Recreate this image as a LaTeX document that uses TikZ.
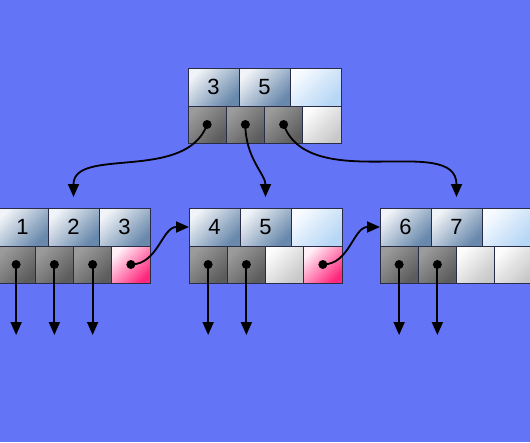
\documentclass[tikz,border=0pt]{standalone}
\usepackage{fontspec}
\setmainfont{Liberation Sans}
\usetikzlibrary{arrows.meta, positioning}

\definecolor{bgblue}{RGB}{100,116,246}
\definecolor{cellline}{RGB}{40,44,70}
\definecolor{keylight}{RGB}{240,243,247}
\definecolor{keydark}{RGB}{104,136,172}
\definecolor{freelight}{RGB}{248,251,255}
\definecolor{freedark}{RGB}{182,214,245}
\definecolor{ptrlight}{RGB}{155,155,155}
\definecolor{ptrdark}{RGB}{92,92,92}
\definecolor{nolight}{RGB}{252,252,252}
\definecolor{nodark}{RGB}{200,200,200}
\definecolor{linklight}{RGB}{255,240,246}
\definecolor{linkdark}{RGB}{255,40,125}

\begin{document}
\begin{tikzpicture}[
                x=1pt, y=-1pt,
                cell/.style={draw=cellline, line width=0.6pt, inner sep=0pt, outer sep=0pt},
                key/.style={cell, minimum width=51pt, minimum height=38pt, top color=keylight, bottom color=keydark, shading angle=45, font=\fontsize{22}{22}\selectfont},
                freekey/.style={cell, minimum width=51pt, minimum height=38pt, top color=freelight, bottom color=freedark, shading angle=45},
                ptr/.style={cell, minimum width=38.25pt, minimum height=37pt, top color=ptrlight, bottom color=ptrdark, shading angle=45},
                freeptr/.style={cell, minimum width=38.25pt, minimum height=37pt, top color=nolight, bottom color=nodark, shading angle=45},
                linkptr/.style={cell, minimum width=38.25pt, minimum height=37pt, top color=linklight, bottom color=linkdark, shading angle=45},
                frame/.style={draw=cellline, line width=1pt},
                dot/.style={fill=black},
                arrow/.style={-{Triangle[length=13pt, width=11pt]}, line width=1.8pt, black},
                node distance=0pt
            ]
                \useasboundingbox (0,0) rectangle (530,442);
                \fill[bgblue] (0,0) rectangle (530,442);
                \clip (0,0) rectangle (530,442);

                % root
                \node[key, anchor=north west] (rk1) at (188,68) {3};
                \node[key, right=of rk1] (rk2) {5};
                \node[freekey, right=of rk2] (rk3) {};
                \node[ptr, anchor=north west] (rp1) at (rk1.south west) {};
                \node[ptr, right=of rp1] (rp2) {};
                \node[ptr, right=of rp2] (rp3) {};
                \node[freeptr, right=of rp3] (rp4) {};
                \draw[frame] (rk1.north west) rectangle (rp4.south east);

                % left leaf
                \node[key, anchor=north west] (a1) at (-3,208) {1};
                \node[key, right=of a1] (a2) {2};
                \node[key, right=of a2] (a3) {3};
                \node[ptr, anchor=north west] (ap1) at (a1.south west) {};
                \node[ptr, right=of ap1] (ap2) {};
                \node[ptr, right=of ap2] (ap3) {};
                \node[linkptr, right=of ap3] (ap4) {};
                \draw[frame] (a1.north west) rectangle (ap4.south east);

                % middle leaf
                \node[key, anchor=north west] (b1) at (189,208) {4};
                \node[key, right=of b1] (b2) {5};
                \node[freekey, right=of b2] (b3) {};
                \node[ptr, anchor=north west] (bp1) at (b1.south west) {};
                \node[ptr, right=of bp1] (bp2) {};
                \node[freeptr, right=of bp2] (bp3) {};
                \node[linkptr, right=of bp3] (bp4) {};
                \draw[frame] (b1.north west) rectangle (bp4.south east);

                % right leaf
                \node[key, anchor=north west] (c1) at (380,208) {6};
                \node[key, right=of c1] (c2) {7};
                \node[freekey, right=of c2] (c3) {};
                \node[ptr, anchor=north west] (cp1) at (c1.south west) {};
                \node[ptr, right=of cp1] (cp2) {};
                \node[freeptr, right=of cp2] (cp3) {};
                \node[freeptr, right=of cp3] (cp4) {};
                \draw[frame] (c1.north west) rectangle (cp4.south east);

                % ends of the downward pointers
                \coordinate[below=52pt of ap1] (ad1);
                \coordinate[below=52pt of ap2] (ad2);
                \coordinate[below=52pt of ap3] (ad3);
                \coordinate[below=52pt of bp1] (bd1);
                \coordinate[below=52pt of bp2] (bd2);
                \coordinate[below=52pt of cp1] (cd1);
                \coordinate[below=52pt of cp2] (cd2);

                \draw[arrow, shorten >=11pt] (rp1.center) to[out=-110, in=90] (a2.north);
                \draw[arrow, shorten >=11pt] (rp2.center) to[out=-90, in=90] (b2.north);
                \draw[arrow, shorten >=11pt] (rp3.center) to[out=-70, in=90] (c2.north);
                \draw[arrow] (ap4.center) to[out=0, in=180] (b1.west);
                \draw[arrow] (bp4.center) to[out=0, in=180] (c1.west);
                \draw[arrow] (ap1.center) -- (ad1);
                \draw[arrow] (ap2.center) -- (ad2);
                \draw[arrow] (ap3.center) -- (ad3);
                \draw[arrow] (bp1.center) -- (bd1);
                \draw[arrow] (bp2.center) -- (bd2);
                \draw[arrow] (cp1.center) -- (cd1);
                \draw[arrow] (cp2.center) -- (cd2);

                \foreach \p in {rp1, rp2, rp3, ap1, ap2, ap3, ap4, bp1, bp2, bp4, cp1, cp2}
                    \fill[dot] (\p.center) circle[radius=4.5pt];
            \end{tikzpicture}
\end{document}
